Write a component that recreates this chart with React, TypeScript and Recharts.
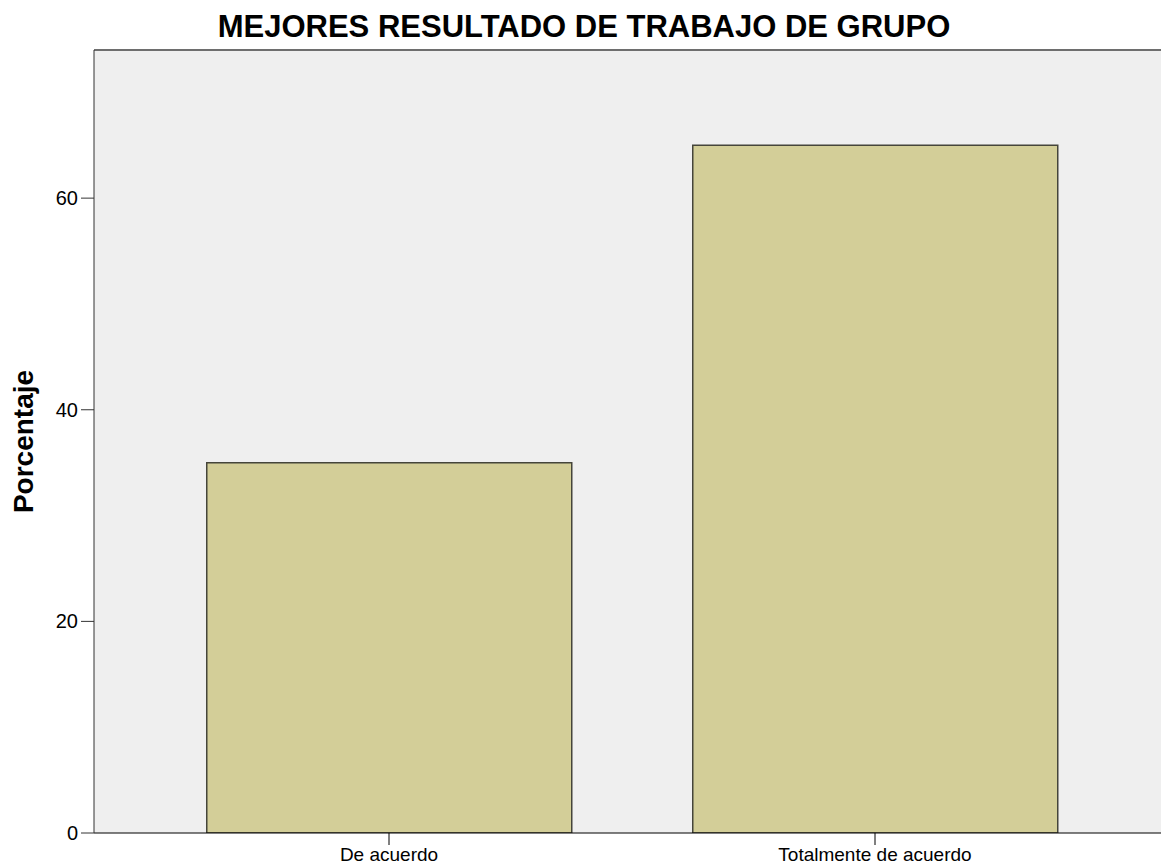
import {
  Bar,
  BarChart,
  CartesianGrid,
  Label,
  ReferenceLine,
  XAxis,
  YAxis
} from "recharts";

const categories = ["De acuerdo", "Totalmente de acuerdo"];
const porcentajes = [35, 65];
const yTicks = [0, 20, 40, 60];

const data = categories.map((name, i) => ({ name, value: porcentajes[i] }));

const FONT = "'Liberation Sans', Arial, sans-serif";

const App = () => {
  return (
    <div style={{ position: "absolute", left: 0, top: 0, width: 1161, height: 867, background: "#fff", overflow: "hidden" }}>
      <div
        style={{
          position: "absolute",
          left: 0,
          top: 11,
          width: 1168,
          textAlign: "center",
          fontFamily: FONT,
          fontWeight: "bold",
          fontSize: 31,
          lineHeight: "31px",
          color: "#000",
          whiteSpace: "nowrap"
        }}
      >
        MEJORES RESULTADO DE TRABAJO DE GRUPO
      </div>
      <BarChart
        width={1161}
        height={867}
        data={data}
        margin={{ top: 50, right: 0, bottom: 0, left: 0 }}
        barCategoryGap="12.5%"
      >
        <CartesianGrid fill="#EFEFEF" horizontal={false} vertical={false} />
        <XAxis
          dataKey="name"
          height={34}
          padding={{ left: 52, right: 43 }}
          stroke="#000"
          tickSize={12}
          tickMargin={3}
          tick={{ fill: "#000", fontSize: 19, fontFamily: FONT }}
        />
        <YAxis
          width={94}
          domain={[0, 74]}
          ticks={yTicks}
          allowDataOverflow
          stroke="#333"
          tickSize={13}
          tickMargin={3}
          tick={{ fill: "#000", fontSize: 20, fontFamily: FONT }}
        >
          <Label
            value="Porcentaje"
            angle={-90}
            position="insideLeft"
            offset={23}
            style={{ fontFamily: FONT, fontWeight: "bold", fontSize: 28, fill: "#000", textAnchor: "middle" }}
          />
        </YAxis>
        <ReferenceLine y={74} stroke="#6E6E6E" strokeWidth={2} ifOverflow="visible" />
        <Bar
          dataKey="value"
          fill="#D3CE98"
          stroke="#45453A"
          strokeWidth={1.5}
          isAnimationActive={false}
        />
      </BarChart>
    </div>
  );
};

export default App;
